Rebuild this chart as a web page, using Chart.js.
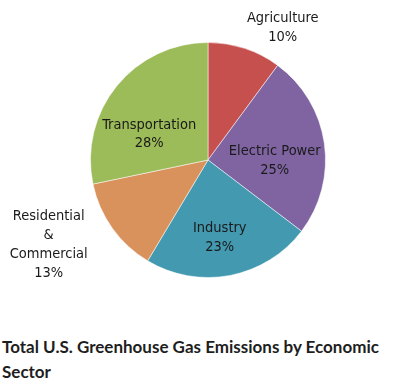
<!DOCTYPE html>
<html>
<head>
<meta charset="utf-8">
<script src="https://cdn.jsdelivr.net/npm/chart.js@4"></script>
<style>
  body { margin: 0; background: #fff; width: 393px; height: 389px; overflow: hidden; }
  #wrap { position: absolute; left: 0; top: 0; width: 393px; height: 300px; }
  #title { position: absolute; left: 2px; top: 334px; font-family: Lato, sans-serif; font-weight: bold;
           font-size: 17px; line-height: 25px; color: #1e1e1e; }
</style>
</head>
<body>
<div id="wrap"><canvas id="pie"></canvas></div>
<div id="title">Total U.S. Greenhouse Gas Emissions by Economic<br>Sector</div>
<script>
const sectors = ['Agriculture', 'Electric Power', 'Industry', 'Residential & Commercial', 'Transportation'];
const labelLines = [['Agriculture'], ['Electric Power'], ['Industry'], ['Residential', '&', 'Commercial'], ['Transportation']];
const shares = [10, 25, 23, 13, 28];
const colors = ['#C5504E', '#8064A2', '#4299B0', '#D9925C', '#9CBB59'];

// label centre relative to pie centre, in units of the radius
const labelPos = [[0.636, -1.123], [0.568, 0.008], [0.10, 0.66], [-1.356, 0.72], [-0.5, -0.22]];

const sliceLabels = {
    id: 'sliceLabels',
    afterDatasetsDraw(chart) {
        const ctx = chart.ctx;
        const meta = chart.getDatasetMeta(0);
        ctx.save();
        ctx.font = '14.5px "DejaVu Sans Condensed", "DejaVu Sans", sans-serif';
        ctx.fillStyle = '#1a1a1a';
        ctx.textAlign = 'center';
        ctx.textBaseline = 'middle';
        meta.data.forEach((arc, i) => {
            const lines = labelLines[i].concat([shares[i] + '%']);
            const cx = arc.x + labelPos[i][0] * arc.outerRadius;
            const cy = arc.y + labelPos[i][1] * arc.outerRadius;
            const lh = 18.8;
            lines.forEach((t, j) => {
                ctx.fillText(t, cx, cy + (j - (lines.length - 1) / 2) * lh);
            });
        });
        ctx.restore();
    }
};

new Chart(document.getElementById('pie'), {
    type: 'pie',
    data: {
        labels: sectors,
        datasets: [{
            data: shares,
            backgroundColor: colors,
            borderColor: 'rgba(255,255,255,0.5)',
            borderWidth: 1
        }]
    },
    options: {
        responsive: true,
        maintainAspectRatio: false,
        animation: false,
        layout: { padding: { left: 90, right: 67, top: 42, bottom: 22 } },
        plugins: { legend: { display: false }, tooltip: { enabled: false } }
    },
    plugins: [sliceLabels]
});
</script>
</body>
</html>
